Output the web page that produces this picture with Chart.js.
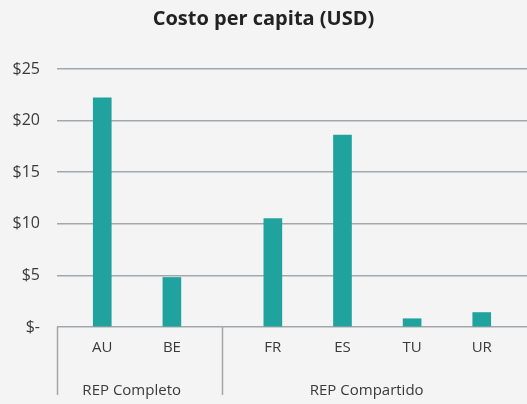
<!DOCTYPE html>
<html lang="es">
<head>
    <meta charset="UTF-8">
    <title>Costo per capita (USD)</title>
    <script src="https://cdn.jsdelivr.net/npm/chart.js"></script>
    <style>
        body { margin: 0; background: #f4f4f4; }
        #wrap { width: 527px; height: 404px; }
    </style>
</head>
<body>
    <div id="wrap"><canvas id="costChart" width="527" height="404"></canvas></div>

    <script>
        // Datos
        const categories = ["AU", "BE", "FR", "ES", "TU", "UR"];
        const groupOf = [0, 0, 1, 1, 1, 1];
        const groupNames = ["REP Completo", "REP Compartido"];
        const costs = [22.2, 4.8, 10.5, 18.6, 0.8, 1.4];
        const yTicks = [0, 5, 10, 15, 20, 25];

        const FONT = "'Open Sans', 'Noto Sans', sans-serif";
        const TEXT = "#3a3a3a";
        const LINE = "#a3a7aa";
        // espacio extra entre grupos, en unidades de categoría
        const GROUP_GAP = 0.45;
        const xPos = categories.map((c, i) => i + groupOf[i] * GROUP_GAP);

        // líneas verticales del eje y nombres de grupo
        const groupAxis = {
            id: "groupAxis",
            afterDraw(chart) {
                const { ctx, chartArea } = chart;
                const xs = chart.scales.x;
                const bottom = 395;
                ctx.save();
                ctx.strokeStyle = LINE;
                ctx.lineWidth = 1.5;
                let start = chartArea.left;
                const bounds = [];
                groupNames.forEach((name, g) => {
                    const idx = groupOf.map((v, i) => v === g ? i : -1).filter(i => i >= 0);
                    const last = idx[idx.length - 1];
                    let end = chartArea.right;
                    if (last + 1 < categories.length) {
                        end = (xs.getPixelForValue(xPos[last]) + xs.getPixelForValue(xPos[last + 1])) / 2;
                    }
                    bounds.push([start, end]);
                    start = end;
                });
                bounds.forEach(([s]) => {
                    ctx.beginPath();
                    ctx.moveTo(Math.round(s) + 0.5, chartArea.bottom);
                    ctx.lineTo(Math.round(s) + 0.5, bottom);
                    ctx.stroke();
                });
                ctx.fillStyle = TEXT;
                ctx.font = "15px " + FONT;
                ctx.textAlign = "center";
                ctx.textBaseline = "middle";
                bounds.forEach(([s, e], g) => {
                    ctx.fillText(groupNames[g], (s + e) / 2 - 8, 391);
                });
                ctx.restore();
            }
        };

        new Chart(document.getElementById("costChart"), {
            type: "bar",
            data: {
                datasets: [{
                    data: xPos.map((x, i) => ({ x: x, y: costs[i] })),
                    backgroundColor: "#20a39e",
                    barThickness: 18
                }]
            },
            options: {
                responsive: false,
                animation: false,
                layout: { autoPadding: false, padding: { left: 0, right: 0, top: 0, bottom: 47 } },
                plugins: {
                    legend: { display: false },
                    tooltip: { enabled: false },
                    title: {
                        display: true,
                        text: "Costo per capita (USD)",
                        color: "#222222",
                        font: { family: FONT, size: 20, weight: "bold" },
                        padding: { top: 7, bottom: 38 }
                    }
                },
                scales: {
                    x: {
                        type: "linear",
                        min: -0.65,
                        max: 6.1,
                        offset: false,
                        grid: { display: false, drawTicks: false },
                        border: { display: false },
                        afterBuildTicks: s => { s.ticks = xPos.map(v => ({ value: v })); },
                        afterFit: s => { s.height = 30; },
                        ticks: {
                            autoSkip: false,
                            maxRotation: 0,
                            padding: 12,
                            color: TEXT,
                            font: { family: FONT, size: 15 },
                            callback: (v, i) => categories[i]
                        }
                    },
                    y: {
                        min: 0,
                        max: 25,
                        afterBuildTicks: s => { s.ticks = yTicks.map(v => ({ value: v })); },
                        afterFit: s => { s.width = 57; },
                        grid: { color: LINE, lineWidth: 1.5, drawTicks: false },
                        border: { display: false },
                        ticks: {
                            padding: 17,
                            color: TEXT,
                            font: { family: FONT, size: 16 },
                            callback: v => v === 0 ? "$-" : "$" + v
                        }
                    }
                }
            },
            plugins: [groupAxis]
        });
    </script>
</body>
</html>
